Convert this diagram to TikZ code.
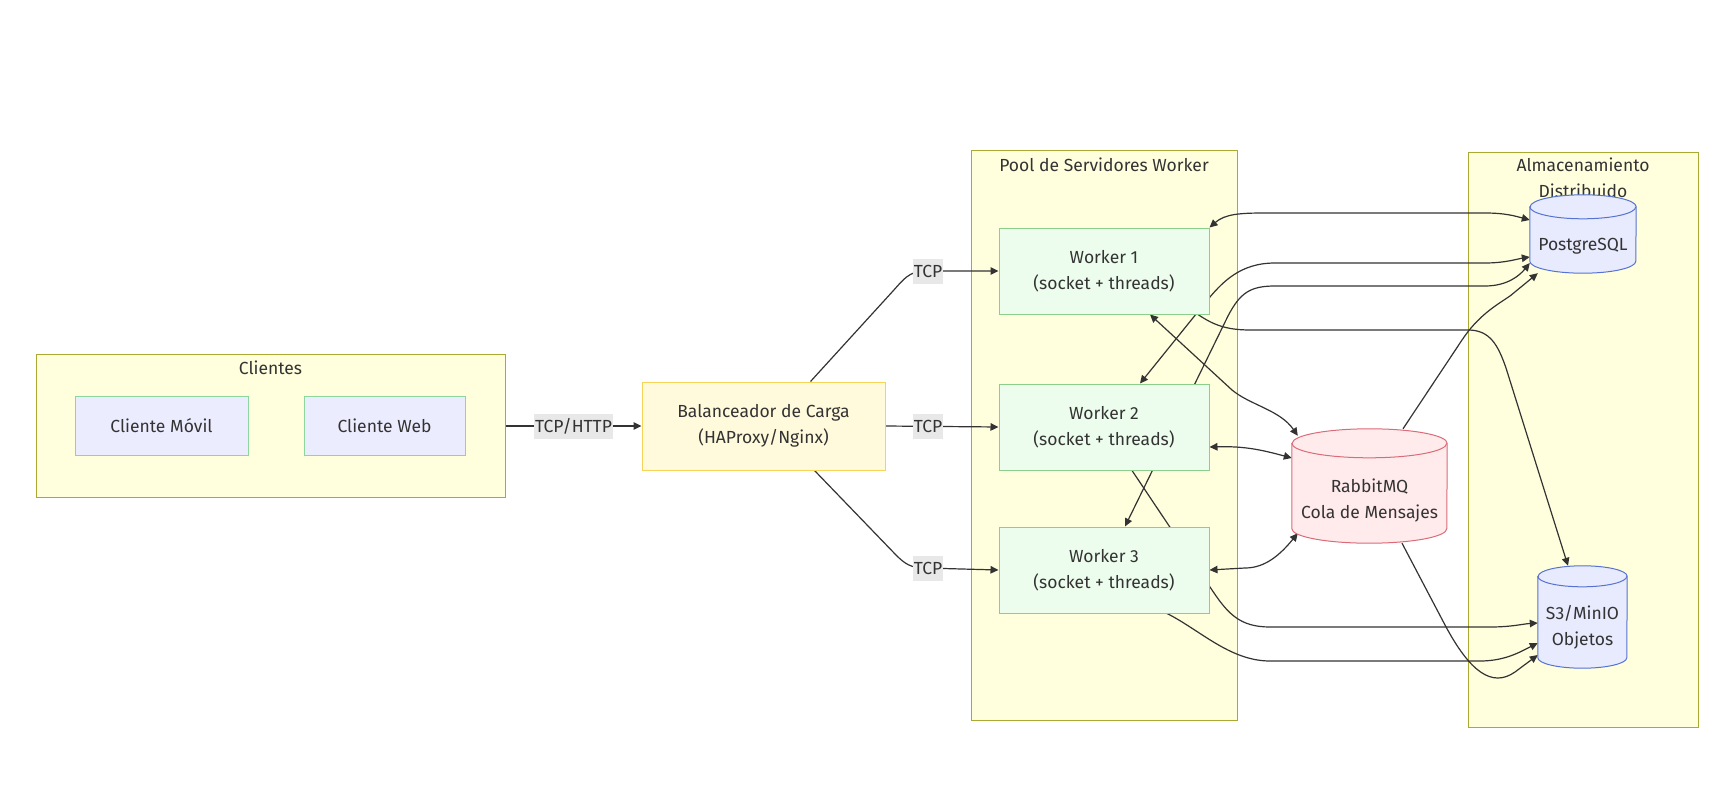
\documentclass[tikz,border=0pt]{standalone}
\usepackage{fontspec}
\setmainfont{Fira Sans}
\usetikzlibrary{positioning, arrows.meta}
\definecolor{groupfill}{HTML}{FFFFDE}
\definecolor{groupline}{HTML}{AAAA33}
\definecolor{clientfill}{HTML}{ECECFF}
\definecolor{clientline}{HTML}{8ED6A0}
\definecolor{lbfill}{HTML}{FFFADC}
\definecolor{lbline}{HTML}{F7D359}
\definecolor{workerfill}{HTML}{EDFDED}
\definecolor{workerline}{HTML}{8CCF8C}
\definecolor{mqfill}{HTML}{FFEAEC}
\definecolor{mqline}{HTML}{DB6B78}
\definecolor{dbfill}{HTML}{E8EAFD}
\definecolor{dbline}{HTML}{5673D1}
\definecolor{wire}{HTML}{333333}
\definecolor{tagfill}{HTML}{E8E8E8}
\definecolor{ink}{HTML}{333333}

\tikzstyle{Link} = [
    line width=1.2pt, draw=wire,
    -{Triangle[length=8pt, width=7.5pt]}
]
\tikzstyle{BiLink} = [
    Link,
    {Triangle[length=8pt, width=7.5pt]}-{Triangle[length=8pt, width=7.5pt]}
]

\pgfdeclarelayer{back}
\pgfdeclarelayer{wires}
\pgfsetlayers{back,wires,main}

\newcommand{\dbshape}[5]{%
    \path[fill=#4, draw=#5, line width=1pt]
        ([yshift=-#3pt]#1.north west) -- ([yshift=#3pt]#1.south west)
        arc[start angle=180, end angle=360, x radius=#2pt, y radius=#3pt]
        -- ([yshift=-#3pt]#1.north east)
        arc[start angle=0, end angle=180, x radius=#2pt, y radius=#3pt] -- cycle;
    \draw[draw=#5, line width=1pt] ([yshift=-#3pt]#1.north west)
        arc[start angle=180, end angle=360, x radius=#2pt, y radius=#3pt];
}

\begin{document}
\begin{tikzpicture}[
x=1pt, y=1pt,
font=\fontsize{17.5}{26}\selectfont, text=ink,
group/.style={
    rectangle,
    draw=groupline, fill=groupfill,
    line width=1pt
    },
grouptitle/.style={inner sep=0pt, align=center},
client/.style={
    rectangle,
    draw=clientline, fill=clientfill,
    line width=1pt,
    minimum height=59
    },
balancer/.style={
    rectangle,
    draw=lbline, fill=lbfill,
    line width=1pt,
    minimum width=243, minimum height=88,
    align=center
    },
worker/.style={
    rectangle,
    draw=workerline, fill=workerfill,
    line width=1pt,
    minimum width=210, minimum height=86,
    align=center
    },
dbbox/.style={rectangle, inner sep=0pt},
tag/.style={fill=tagfill, inner xsep=1pt, inner ysep=0pt, minimum height=25}
]

\useasboundingbox (0,0) rectangle (1733,-808);

\begin{pgfonlayer}{back}
\node[group, minimum width=469, minimum height=143] (clientes) at (270.5,-426) {};
\node[group, minimum width=266, minimum height=570] (pool) at (1104,-435) {};
\node[group, minimum width=230, minimum height=575] (almac) at (1583,-439.5) {};
\end{pgfonlayer}

\node[grouptitle] (clientes-t) at (270.5,-368) {Clientes};
\node[grouptitle] (pool-t) at (1104,-165) {Pool de Servidores Worker};
\node[grouptitle] (almac-t) at (1583,-178) {Almacenamiento\\Distribuido};

\node[client, minimum width=173] (movil) at (161.5,-426) {Cliente Móvil};
\node[client, minimum width=161, right=55pt of movil] (web) {Cliente Web};

\node[balancer] (lb) at (763.5,-426) {Balanceador de Carga\\(HAProxy/Nginx)};

\node[worker] (w1) at (1104,-271) {Worker 1\\(socket + threads)};
\node[worker, below=69pt of w1] (w2) {Worker 2\\(socket + threads)};
\node[worker, below=56pt of w2] (w3) {Worker 3\\(socket + threads)};

\node[dbbox, minimum width=106, minimum height=78] (pg) at (1583,-234) {};
\node[dbbox, minimum width=155, minimum height=114] (mq) at (1369.5,-486) {};
\node[dbbox, minimum width=89, minimum height=102] (s3) at (1582.5,-617) {};

\dbshape{pg}{53}{12}{dbfill}{dbline}
\node (pg-t) at ([yshift=-12]pg.center) {PostgreSQL};
\dbshape{mq}{77.5}{14.5}{mqfill}{mqline}
\node[align=center] (mq-t) at ([yshift=-14.5]mq.center) {RabbitMQ\\Cola de Mensajes};
\dbshape{s3}{44.5}{10.5}{dbfill}{dbline}
\node[align=center] (s3-t) at ([yshift=-10.5]s3.center) {S3/MinIO\\Objetos};

\node[tag] (tag0) at (573.5,-426) {TCP/HTTP};
\node[tag] (tag1) at (928,-271) {TCP};
\node[tag] (tag2) at (928,-426) {TCP};
\node[tag] (tag3) at (928,-568) {TCP};

\begin{pgfonlayer}{wires}
\draw[Link] (clientes.east) -- (lb.west);
\draw[Link] ([xshift=47]lb.north) -- (893,-291)
    .. controls (903,-280) and (909,-271) .. (925,-271) -- (w1.west);
\draw[Link] (lb.east) -- (w2.west);
\draw[Link] ([xshift=51]lb.south) -- (896,-555)
    .. controls (905,-564) and (911,-568) .. (925,-568) -- (w3.west);

\draw[BiLink] (w1.north east) .. controls (1225,-214) and (1240,-213) .. (1265,-213)
    -- (1485,-213) .. controls (1505,-213) and (1515,-216) .. ([yshift=14]pg.west);
\draw[BiLink] ([xshift=36]w2.north) -- (1205,-303)
    .. controls (1222,-282) and (1240,-263) .. (1275,-263)
    -- (1485,-263) .. controls (1505,-263) and (1517,-259) .. ([yshift=-23]pg.west);
\draw[BiLink] ([xshift=21]w3.north) -- (1228,-316)
    .. controls (1240,-293) and (1250,-286) .. (1275,-286)
    -- (1485,-286) .. controls (1508,-286) and (1520,-275) .. ([yshift=-29]pg.west);
\draw[Link] ([xshift=33.5]mq.north) -- (1462,-340)
    .. controls (1478,-316) and (1495,-306) .. (1510,-296) -- ([xshift=8]pg.south west);

\draw[BiLink] ([xshift=46]w1.south) -- (1232,-390)
    .. controls (1250,-405) and (1280,-410) .. ([xshift=6,yshift=-7]mq.north west);
\draw[BiLink] ([yshift=-20]w2.east) .. controls (1245,-446) and (1262,-450) .. ([yshift=28]mq.west);
\draw[BiLink] (w3.east) -- (1245,-568)
    .. controls (1265,-568) and (1280,-555) .. ([xshift=6,yshift=10]mq.south west);

\draw[Link] ([xshift=94]w1.south) .. controls (1212,-324) and (1225,-330) .. (1250,-330)
    -- (1468,-330) .. controls (1490,-330) and (1498,-345) .. (1506,-368)
    -- ([xshift=-14.5]s3.north);
\draw[Link] ([xshift=28]w2.south) -- (1212,-590)
    .. controls (1228,-614) and (1240,-627) .. (1270,-627)
    -- (1490,-627) .. controls (1512,-627) and (1522,-624) .. ([yshift=-6]s3.west);
\draw[Link] ([xshift=63]w3.south) .. controls (1200,-630) and (1230,-661) .. (1270,-661)
    -- (1480,-661) .. controls (1505,-661) and (1520,-652) .. ([yshift=-26]s3.west);
\draw[Link] ([xshift=32.5]mq.south) -- (1445,-625)
    .. controls (1470,-672) and (1492,-688) .. (1515,-672) -- ([yshift=-38]s3.west);
\end{pgfonlayer}

\end{tikzpicture}
\end{document}
